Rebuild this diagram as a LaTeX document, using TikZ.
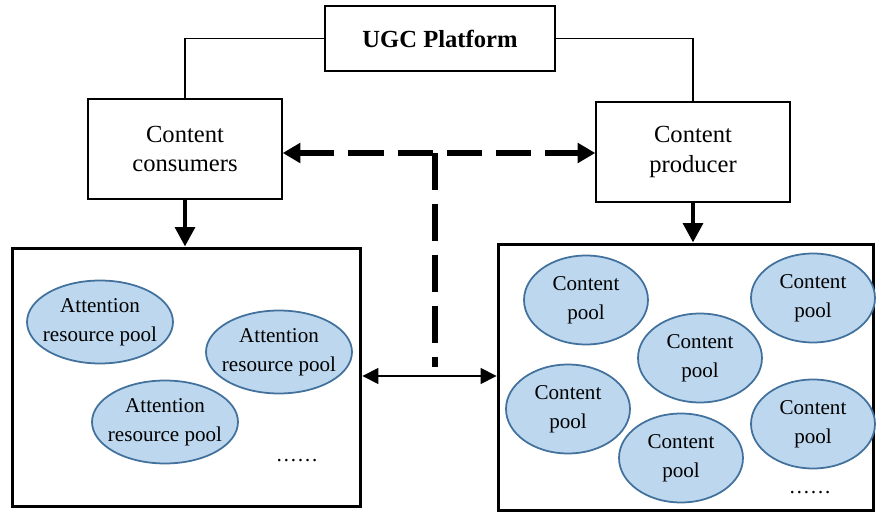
\documentclass[tikz,border=0pt]{standalone}
\usepackage{fontspec}
\setmainfont{Liberation Serif}
\usetikzlibrary{shapes.geometric,arrows.meta}

\begin{document}
\begin{tikzpicture}[x=0.02cm,y=-0.02cm]
    % Office style blues for the pools
    \definecolor{poolfill}{RGB}{189,215,238}   % Light Blue
    \definecolor{poolline}{RGB}{65,113,156}    % Steel Blue

    \tikzset{
        actorbox/.style={draw, line width=0.9pt, minimum width=3.88cm, minimum height=2cm,
            inner sep=0pt, align=center, font=\fontsize{14}{17}\selectfont},
        poolarea/.style={draw, line width=1.7pt, inner sep=0pt},
        attpool/.style={ellipse, draw=poolline, line width=1pt, fill=poolfill,
            minimum width=2.92cm, minimum height=1.66cm, inner xsep=-14pt, inner ysep=0pt,
            align=center, font=\fontsize{12}{16.4}\selectfont},
        conpool/.style={attpool, minimum width=2.48cm, minimum height=1.78cm},
        morelabel/.style={font=\fontsize{12}{14}\selectfont, inner sep=0pt},
        boldarrow/.style={line width=2.6pt, -{Triangle[length=11pt,width=11pt]}},
        dasharrow/.style={line width=3pt, dash pattern=on 20pt off 8pt,
            {Triangle[length=10pt,width=11pt]}-{Triangle[length=10pt,width=11pt]}},
        linkarrow/.style={line width=0.9pt,
            {Triangle[length=9pt,width=9pt]}-{Triangle[length=9pt,width=9pt]}}
    }

    \useasboundingbox (0,0) rectangle (877,513);

    % Platform and the two actors
    \node[draw, line width=0.9pt, minimum width=4.6cm, minimum height=1.3cm,
        font=\fontsize{14}{17}\selectfont\bfseries] (ugc) at (440,38.5) {UGC Platform};
    \node[actorbox] (consumers) at (185,149) {Content\\consumers};
    \node[actorbox] (producer) at (693,152) {Content\\producer};

    % Outer pool areas
    \node[poolarea, minimum width=6.98cm, minimum height=5.18cm] (attarea) at (186.5,377.5) {};
    \node[poolarea, minimum width=7.52cm, minimum height=5.34cm] (conarea) at (686,377.5) {};

    % Attention resource pools
    \node[attpool] (att1) at (100,322) {Attention\\resource pool};
    \node[attpool] (att2) at (279,352) {Attention\\resource pool};
    \node[attpool] (att3) at (165,422) {Attention\\resource pool};
    \node[morelabel] (attmore) at (297,461) {……};

    % Content pools
    \node[conpool] (con1) at (586,300) {Content\\pool};
    \node[conpool] (con2) at (813,298) {Content\\pool};
    \node[conpool] (con3) at (700,358) {Content\\pool};
    \node[conpool] (con4) at (568,409) {Content\\pool};
    \node[conpool] (con5) at (813,424) {Content\\pool};
    \node[conpool] (con6) at (681,458) {Content\\pool};
    \node[morelabel] (conmore) at (810,493) {……};

    % Platform links
    \draw[line width=0.8pt] (ugc.west) -| (consumers.north);
    \draw[line width=0.8pt] (ugc.east) -| (producer.north);

    % Actors to their pool areas
    \draw[boldarrow] (consumers.south) -- (consumers.south |- attarea.north);
    \draw[boldarrow] (producer.south) -- (producer.south |- conarea.north);

    % Interaction between consumers and producer
    \coordinate (dashtop) at (435,153);
    \coordinate (dashend) at (435,367);
    \coordinate (linkrow) at (435,376);
    \draw[dasharrow] (dashtop -| consumers.east) -- (dashtop -| producer.west);
    \draw[line width=3pt, dash pattern=on 21pt off 8pt] (dashtop) -- (dashend);
    \draw[linkarrow] (linkrow -| attarea.east) -- (linkrow -| conarea.west);

\end{tikzpicture}
\end{document}
